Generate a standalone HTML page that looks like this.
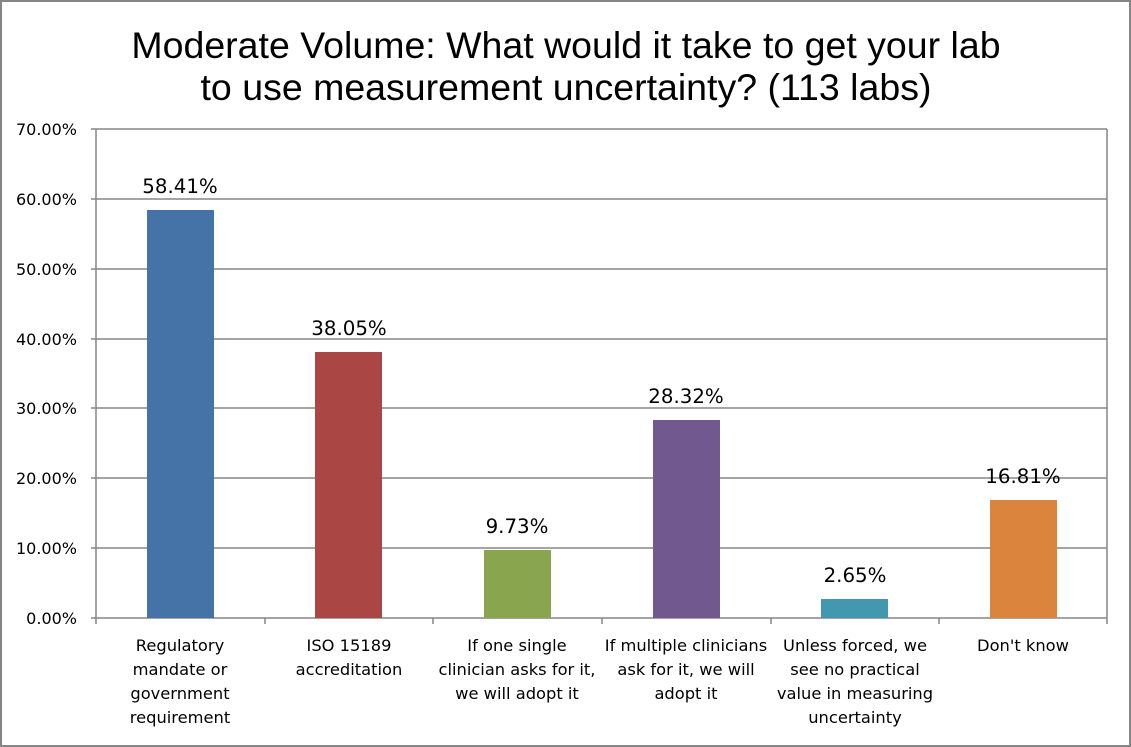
<!DOCTYPE html>
<html><head><meta charset="utf-8"><style>
html,body{margin:0;padding:0;background:#fff;}
svg{display:block;}
text{font-family:"DejaVu Sans","Liberation Sans",sans-serif;fill:#000;}
</style></head><body>
<svg width="1131" height="747" viewBox="0 0 1131 747">
<rect x="1" y="1" width="1129" height="745" fill="#fff" stroke="#868686" stroke-width="2"/>
<text x="566" y="58" text-anchor="middle" style="font-family:'Liberation Sans',sans-serif" font-size="37.5">Moderate Volume: What would it take to get your lab</text>
<text x="566" y="100" text-anchor="middle" style="font-family:'Liberation Sans',sans-serif" font-size="37.5">to use measurement uncertainty? (113 labs)</text>
<g stroke="#868686" stroke-width="1.5">
<line x1="91" y1="129" x2="1107" y2="129"/>
<line x1="91" y1="199" x2="1107" y2="199"/>
<line x1="91" y1="269" x2="1107" y2="269"/>
<line x1="91" y1="339" x2="1107" y2="339"/>
<line x1="91" y1="408" x2="1107" y2="408"/>
<line x1="91" y1="478" x2="1107" y2="478"/>
<line x1="91" y1="548" x2="1107" y2="548"/>
<line x1="91" y1="618" x2="1107" y2="618"/>
<line x1="96" y1="129" x2="96" y2="624"/>
<line x1="1107" y1="129" x2="1107" y2="618"/>
<line x1="265" y1="618" x2="265" y2="624"/>
<line x1="433" y1="618" x2="433" y2="624"/>
<line x1="602" y1="618" x2="602" y2="624"/>
<line x1="771" y1="618" x2="771" y2="624"/>
<line x1="939" y1="618" x2="939" y2="624"/>
<line x1="1107" y1="618" x2="1107" y2="624"/>
</g>
<g font-size="16" text-anchor="end">
<text x="77" y="135">70.00%</text>
<text x="77" y="205">60.00%</text>
<text x="77" y="275">50.00%</text>
<text x="77" y="345">40.00%</text>
<text x="77" y="414">30.00%</text>
<text x="77" y="484">20.00%</text>
<text x="77" y="554">10.00%</text>
<text x="77" y="624">0.00%</text>
</g>
<rect x="147" y="210" width="67" height="408" fill="#4572a7"/>
<rect x="315" y="352" width="67" height="266" fill="#aa4643"/>
<rect x="484" y="550" width="67" height="68" fill="#89a54e"/>
<rect x="653" y="420" width="67" height="198" fill="#71588f"/>
<rect x="821" y="599" width="67" height="19" fill="#4198af"/>
<rect x="990" y="500" width="67" height="118" fill="#db843d"/>
<g font-size="19.8" text-anchor="middle">
<text x="180" y="193">58.41%</text>
<text x="349" y="335">38.05%</text>
<text x="517" y="533">9.73%</text>
<text x="686" y="403">28.32%</text>
<text x="855" y="582">2.65%</text>
<text x="1023" y="483">16.81%</text>
</g>
<g font-size="16.3" text-anchor="middle">
<text x="180" y="651">Regulatory</text><text x="180" y="675">mandate or</text><text x="180" y="699">government</text><text x="180" y="723">requirement</text>
<text x="349" y="651">ISO 15189</text><text x="349" y="675">accreditation</text>
<text x="517" y="651">If one single</text><text x="517" y="675">clinician asks for it,</text><text x="517" y="699">we will adopt it</text>
<text x="686" y="651">If multiple clinicians</text><text x="686" y="675">ask for it, we will</text><text x="686" y="699">adopt it</text>
<text x="855" y="651">Unless forced, we</text><text x="855" y="675">see no practical</text><text x="855" y="699">value in measuring</text><text x="855" y="723">uncertainty</text>
<text x="1023" y="651">Don't know</text>
</g>
</svg>
</body></html>
